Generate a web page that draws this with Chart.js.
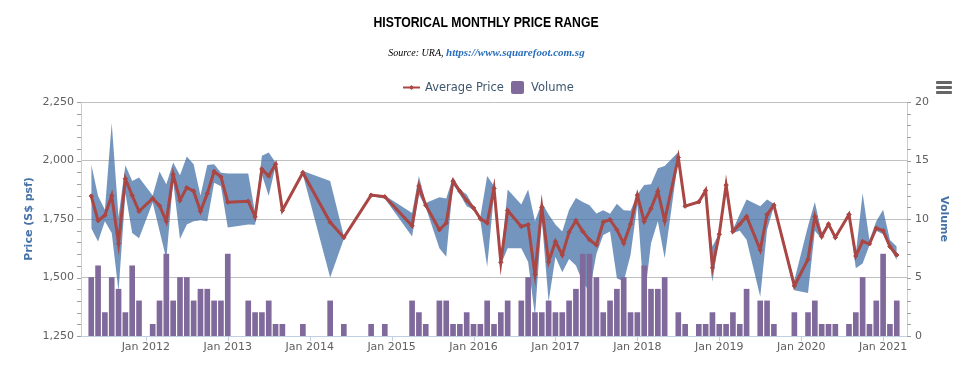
<!DOCTYPE html>
<html><head><meta charset="utf-8">
<script src="https://cdn.jsdelivr.net/npm/chart.js@4.4.0/dist/chart.umd.min.js"></script>
<style>
html,body{margin:0;padding:0;background:#fff;}
#wrap{position:relative;width:973px;height:366px;overflow:hidden;background:#fff;}
canvas{position:absolute;left:0;top:0;}
.t{position:absolute;white-space:nowrap;}
.lg{position:absolute;font-family:'DejaVu Sans',Verdana,sans-serif;font-size:11.5px;color:#3E576F;line-height:14px;}
.bar3{position:absolute;left:936px;width:16px;height:3px;background:#666;border-radius:1px;}
</style></head><body>
<div id="wrap">
<canvas id="c" width="973" height="366"></canvas>
<div class="t" style="left:0;width:973px;top:13px;text-align:center;"><span style="display:inline-block;font:bold 15px 'Liberation Sans',Arial,sans-serif;transform:scaleX(0.815);color:#000;">HISTORICAL MONTHLY PRICE RANGE</span></div>
<div class="t" style="left:0;width:973px;top:44px;text-align:center;font-family:'Liberation Serif','Times New Roman',serif;line-height:14px;"><span style="font-style:italic;font-size:10px;color:#000;">Source: URA, </span><span style="font-style:italic;font-weight:bold;font-size:11px;color:#2A6EBB;">https://www.squarefoot.com.sg</span></div>
<svg class="t" style="left:403px;top:82px;" width="17" height="11"><line x1="0" y1="5.5" x2="17" y2="5.5" stroke="#AA4643" stroke-width="2"/><path d="M8.5 3 L11 5.5 L8.5 8 L6 5.5 Z" fill="#AA4643"/></svg>
<div class="lg" style="left:425px;top:80px;">Average Price</div>
<svg class="t" style="left:511px;top:81px;" width="13" height="13"><rect x="0" y="0" width="13" height="13" rx="2" ry="2" fill="#80699B"/></svg>
<div class="lg" style="left:531px;top:80px;">Volume</div>
<div class="bar3" style="top:81px;"></div>
<div class="bar3" style="top:86px;"></div>
<div class="bar3" style="top:91px;"></div>
</div>
<script>
const months = [
"2011-05","2011-06","2011-07","2011-08","2011-09","2011-10","2011-11","2011-12",
"2012-02","2012-03","2012-04","2012-05","2012-06","2012-07","2012-08","2012-09","2012-10","2012-11","2012-12",
"2013-01","2013-04","2013-05","2013-06","2013-07","2013-08","2013-09","2013-12",
"2014-04","2014-06","2014-10","2014-12",
"2015-04","2015-05","2015-06","2015-08","2015-09","2015-10","2015-11","2015-12",
"2016-01","2016-02","2016-03","2016-04","2016-05","2016-06","2016-08","2016-09","2016-10","2016-11","2016-12",
"2017-01","2017-02","2017-03","2017-04","2017-05","2017-06","2017-07","2017-08","2017-09","2017-10","2017-11","2017-12",
"2018-01","2018-02","2018-03","2018-04","2018-05","2018-07","2018-08","2018-10","2018-11","2018-12",
"2019-01","2019-02","2019-03","2019-04","2019-05","2019-07","2019-08","2019-09","2019-12",
"2020-02","2020-03","2020-04","2020-05","2020-06","2020-08","2020-09","2020-10","2020-11","2020-12",
"2021-01","2021-02","2021-03"
];
const avgPrice = [
1848,1743,1766,1850,1645,1922,1850,1783,
1838,1807,1740,1940,1830,1884,1869,1783,1859,1953,1930,
1822,1826,1759,1963,1934,1984,1787,1948,
1736,1671,1852,1845,
1721,1891,1809,1704,1733,1912,1869,1829,
1797,1751,1733,1881,1565,1786,1718,1726,1513,1800,1567,
1654,1596,1694,1743,1697,1661,1639,1737,1747,1704,1646,1728,
1852,1740,1795,1869,1743,2013,1805,1823,1872,1542,
1685,1895,1697,1728,1761,1618,1769,1809,1464,
1578,1761,1675,1728,1671,1769,1592,1654,1644,1711,
1700,1632,1596
];
const lowPrice = [
1711,1654,1740,1690,1440,1860,1690,1668,
1820,1700,1579,1912,1665,1726,1740,1745,1740,1905,1890,
1714,1726,1725,1940,1848,1977,1780,1940,
1500,1665,1847,1838,
1675,1855,1800,1625,1589,1898,1855,1805,
1790,1744,1546,1860,1555,1625,1625,1566,1335,1750,1396,
1589,1522,1579,1551,1480,1440,1600,1682,1697,1497,1483,1596,
1812,1400,1646,1740,1582,2006,1800,1818,1866,1481,
1680,1890,1690,1700,1661,1418,1704,1804,1445,
1434,1700,1665,1722,1665,1762,1540,1560,1638,1700,
1685,1625,1575
];
const highPrice = [
1984,1848,1790,2160,1760,1980,1912,1927,
1850,1953,1898,1991,1937,2017,1984,1850,1981,1984,1948,
1944,1944,1775,2020,2034,1991,1795,1955,
1912,1677,1857,1850,
1776,1934,1818,1843,1838,1930,1876,1855,
1805,1760,1934,1891,1572,1876,1812,1876,1740,1820,1769,
1726,1697,1790,1840,1823,1809,1773,1787,1772,1815,1787,1785,
1855,1895,1898,1967,1977,2036,1810,1828,1878,1632,
1690,1900,1705,1770,1833,1804,1833,1815,1488,
1720,1823,1690,1734,1677,1775,1600,1860,1660,1740,
1790,1660,1632
];
const volume = [
5,6,2,5,4,2,6,3,
1,3,7,3,5,5,3,4,4,3,3,
7,3,2,2,3,1,1,1,
3,1,1,1,
3,2,1,3,3,1,1,2,
1,1,3,1,2,3,3,5,2,2,3,
2,2,3,4,7,7,5,2,3,4,5,2,
2,6,4,4,5,2,1,1,1,2,
1,1,2,1,4,3,3,1,2,
2,3,1,1,1,1,2,5,1,3,
7,1,3
];
const tickValues = [0,12,24,36,48,60,72,84,96,108];
const tickLabels = ["Jan 2012","Jan 2013","Jan 2014","Jan 2015","Jan 2016","Jan 2017","Jan 2018","Jan 2019","Jan 2020","Jan 2021"];
const priceTicks = [1250,1500,1750,2000,2250];
const volumeTicks = [0,5,10,15,20];

function monthIndex(s){ const p = s.split('-').map(Number); return (p[0]-2012)*12 + (p[1]-1); }
function pts(arr){ return months.map((m,i)=>({x:monthIndex(m), y:arr[i]})); }
function fmt(v){ return String(v).replace(/\B(?=(\d{3})+(?!\d))/g, ','); }

const axisDeco = {
  id:'axisDeco',
  afterDraw(chart){
    const ctx = chart.ctx, a = chart.chartArea;
    const y = chart.scales.y, y1 = chart.scales.y1, x = chart.scales.x;
    ctx.save();
    ctx.lineWidth = 1;
    ctx.strokeStyle = '#A0A0A0';
    ctx.beginPath();
    for (let v = priceTicks[0]; v <= priceTicks[priceTicks.length-1]; v += 50) {
      const py = Math.round(y.getPixelForValue(v)) + 0.5;
      ctx.moveTo(a.left - 4, py); ctx.lineTo(a.left, py);
    }
    for (let v = volumeTicks[0]; v <= volumeTicks[volumeTicks.length-1]; v += 1) {
      const py = Math.round(y1.getPixelForValue(v)) + 0.5;
      ctx.moveTo(a.right, py); ctx.lineTo(a.right + 4, py);
    }
    ctx.stroke();
    ctx.strokeStyle = '#C0D0E0';
    ctx.beginPath();
    tickValues.forEach(v => {
      const px = Math.round(x.getPixelForValue(v)) + 0.5;
      ctx.moveTo(px, a.bottom); ctx.lineTo(px, a.bottom + 5);
    });
    ctx.stroke();
    ctx.restore();
  }
};

const tickFont = {family:"'DejaVu Sans', Verdana, sans-serif", size:11};
const titleFont = {family:"'DejaVu Sans', Verdana, sans-serif", size:11, weight:'bold'};

new Chart(document.getElementById('c'), {
  type:'line',
  data:{
    datasets:[
      {label:'Low', data:pts(lowPrice), yAxisID:'y', borderColor:'rgba(0,0,0,0)', borderWidth:0, pointRadius:0, fill:false, tension:0, order:3},
      {label:'High', data:pts(highPrice), yAxisID:'y', borderColor:'rgba(0,0,0,0)', borderWidth:0, pointRadius:0, fill:'-1', backgroundColor:'rgba(69,114,167,0.75)', tension:0, order:3},
      {label:'Average Price', data:pts(avgPrice), yAxisID:'y', borderColor:'#AA4643', borderWidth:3, pointStyle:'rectRot', pointRadius:2.2, pointBackgroundColor:'#AA4643', pointBorderColor:'#AA4643', pointBorderWidth:1, fill:false, tension:0, order:1},
      {type:'bar', label:'Volume', data:pts(volume), yAxisID:'y1', backgroundColor:'#80699B', barThickness:5, order:2}
    ]
  },
  options:{
    responsive:false,
    animation:false,
    events:[],
    layout:{padding:{top:102, left:0, right:0, bottom:0}},
    plugins:{legend:{display:false}, tooltip:{enabled:false}, title:{display:false}},
    scales:{
      x:{
        type:'linear', min:-9.5, max:111.5, offset:false,
        grid:{display:false, drawTicks:false, offset:false},
        border:{display:true, color:'#C0D0E0'},
        ticks:{autoSkip:false, maxRotation:0, padding:5, color:'#606060', font:tickFont,
          callback:(v)=>{ const i = tickValues.indexOf(v); return i >= 0 ? tickLabels[i] : ''; }},
        afterBuildTicks:(s)=>{ s.ticks = tickValues.map(v=>({value:v})); },
        afterFit:(s)=>{ s.height = 30; }
      },
      y:{
        position:'left', min:1250, max:2250,
        grid:{color:'#C0C0C0', drawTicks:false},
        border:{display:true, color:'#C0D0E0'},
        ticks:{padding:7, color:'#606060', font:tickFont, callback:(v)=>fmt(v)},
        afterBuildTicks:(s)=>{ s.ticks = priceTicks.map(v=>({value:v})); },
        title:{display:true, text:'Price (S$ psf)', color:'#4572A7', font:titleFont, padding:{top:23, bottom:0}},
        afterFit:(s)=>{ s.width = 81; }
      },
      y1:{
        position:'right', min:0, max:20,
        grid:{display:false, drawTicks:false},
        border:{display:true, color:'#C0D0E0'},
        ticks:{padding:8, color:'#606060', font:tickFont},
        afterBuildTicks:(s)=>{ s.ticks = volumeTicks.map(v=>({value:v})); },
        title:{display:true, text:'Volume', color:'#4572A7', font:titleFont, padding:{top:23, bottom:0}},
        afterFit:(s)=>{ s.width = 66; }
      }
    }
  },
  plugins:[axisDeco]
});
</script>
</body></html>
